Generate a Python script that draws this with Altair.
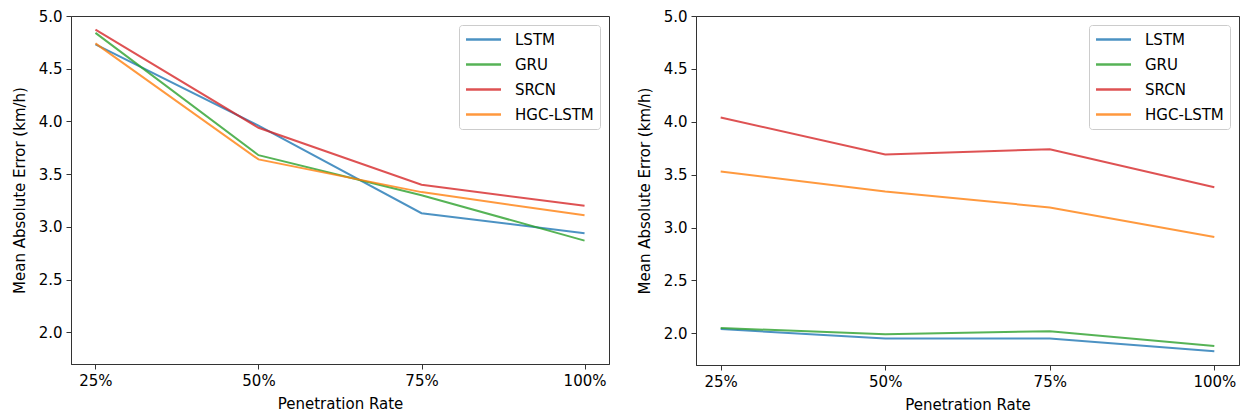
import altair as alt
import pandas as pd

rates = [25, 50, 75, 100]
models = ["LSTM", "GRU", "SRCN", "HGC-LSTM"]
colors = ["#1f77b4", "#2ca02c", "#d62728", "#ff7f0e"]

left_lstm = [4.73, 3.96, 3.13, 2.94]
left_gru = [4.84, 3.68, 3.30, 2.87]
left_srcn = [4.87, 3.94, 3.40, 3.20]
left_hgc = [4.74, 3.64, 3.33, 3.11]

right_lstm = [2.04, 1.95, 1.95, 1.83]
right_gru = [2.05, 1.99, 2.02, 1.88]
right_srcn = [4.04, 3.69, 3.74, 3.38]
right_hgc = [3.53, 3.34, 3.19, 2.91]

y_ticks = [2.0, 2.5, 3.0, 3.5, 4.0, 4.5, 5.0]


def make_df(series):
    rows = []
    for m, vals in zip(models, series):
        for r, v in zip(rates, vals):
            rows.append({"rate": r, "model": m, "mae": v})
    return pd.DataFrame(rows)


FONT = "DejaVu Sans"


def panel(df, w, h):
    return (
        alt.Chart(df)
        .mark_line(strokeWidth=2, opacity=0.8)
        .encode(
            x=alt.X(
                "rate:Q",
                scale=alt.Scale(domain=[21.25, 103.75], nice=False, zero=False),
                axis=alt.Axis(
                    title="Penetration Rate",
                    values=rates,
                    labelExpr="datum.value + '%'",
                    grid=False,
                    tickSize=5,
                    labelPadding=4,
                    titlePadding=8,
                ),
            ),
            y=alt.Y(
                "mae:Q",
                scale=alt.Scale(domain=[1.7, 5.0], nice=False, zero=False),
                axis=alt.Axis(
                    title="Mean Absolute Error (km/h)",
                    values=y_ticks,
                    format=".1f",
                    grid=False,
                    tickSize=5,
                    labelPadding=4,
                    titlePadding=11,
                ),
            ),
            color=alt.Color(
                "model:N",
                sort=models,
                scale=alt.Scale(domain=models, range=colors),
                legend=alt.Legend(
                    title=None,
                    orient="top-right",
                    offset=9,
                    symbolType="M-2.5,0H2.5",
                    symbolSize=196,
                    symbolOffset=10,
                    symbolStrokeWidth=2.5,
                    symbolOpacity=0.8,
                    labelFontSize=15,
                    labelFont=FONT,
                    labelColor="#000000",
                    labelOffset=23,
                    rowPadding=8,
                    padding=6,
                    fillColor="#ffffff",
                    strokeColor="#cccccc",
                    cornerRadius=3,
                ),
            ),
        )
        .properties(width=w, height=h)
    )


left = panel(make_df([left_lstm, left_gru, left_srcn, left_hgc]), 538, 348)
right = panel(make_df([right_lstm, right_gru, right_srcn, right_hgc]), 543, 349)

chart = (
    alt.hconcat(left, right, spacing=26)
    .resolve_scale(color="independent")
    .resolve_legend(color="independent")
    .properties(padding={"left": 3, "top": 0, "right": 0, "bottom": 0})
    .configure_view(stroke="#333333", strokeWidth=1)
    .configure_axis(
        labelFont=FONT,
        titleFont=FONT,
        labelFontSize=15,
        titleFontSize=15,
        titleFontWeight="normal",
        labelColor="#000000",
        titleColor="#000000",
        domainColor="#333333",
        tickColor="#333333",
    )
)

chart.save("out.html", embed_options={"renderer": "svg", "actions": False})
